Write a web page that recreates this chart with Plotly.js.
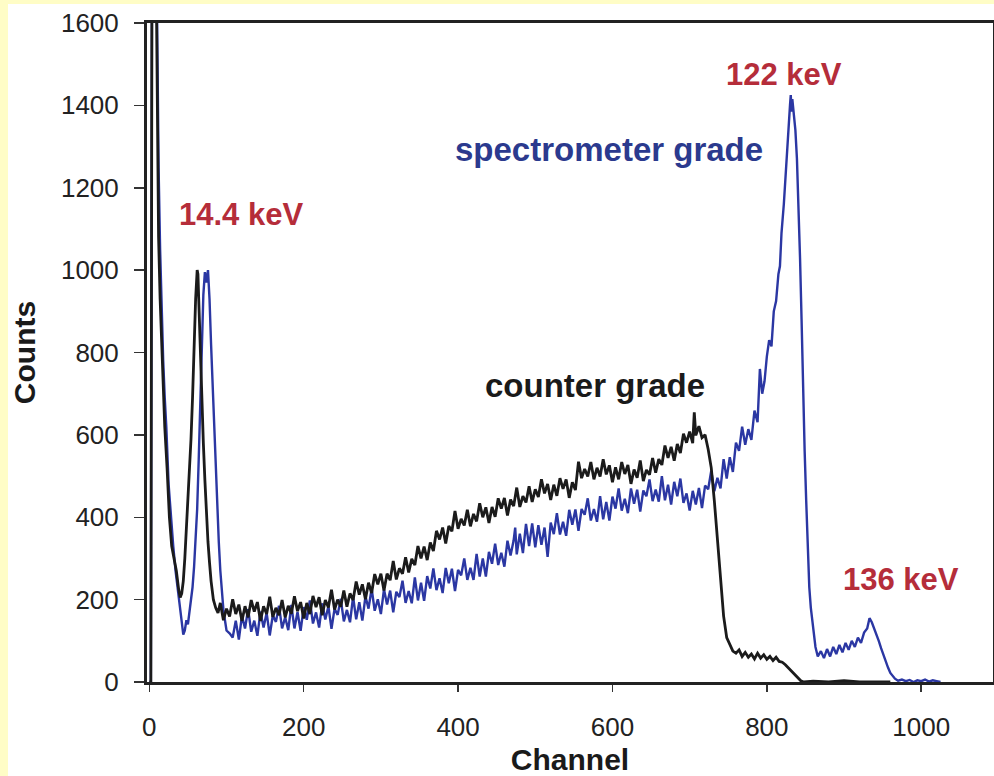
<!DOCTYPE html>
<html>
<head>
<meta charset="utf-8">
<script src="https://cdn.plot.ly/plotly-3.0.1.min.js"></script>
<style>
  html, body { margin:0; padding:0; background:#FFFDC6; width:994px; height:776px; overflow:hidden; }
  #chart { position:absolute; left:8px; top:4px; width:986px; height:772px; }
</style>
</head>
<body>
<div id="chart"></div>
<script>
// ---- data ----
const xTickValues = [0, 200, 400, 600, 800, 1000];
const xTickLabels = ["0", "200", "400", "600", "800", "1000"];
const yTickValues = [0, 200, 400, 600, 800, 1000, 1200, 1400, 1600];
const yTickLabels = ["0", "200", "400", "600", "800", "1000", "1200", "1400", "1600"];

// counter grade detector (black)
const counterChannel = [
  0,2,4,6,8,10,12,14,16,18,20,23,26,29,32,35,38,40,42,44,46,48,50,52,54,56,58,60,62,63,64,66,68,70,72,74,76,78,80,83,86,89,
  92,96,100,104,108,112,116,120,124,128,132,136,140,144,148,152,156,160,164,168,172,176,180,184,188,192,196,200,
  204,208,212,216,220,224,228,232,236,240,244,248,252,256,260,264,268,272,276,280,284,288,292,296,300,
  304,308,312,316,320,324,328,332,336,340,344,348,352,356,360,364,368,372,376,380,384,388,392,396,400,
  404,408,412,416,420,424,428,432,436,440,444,448,452,456,460,464,468,472,476,480,484,488,492,496,500,
  504,508,512,516,520,524,528,532,536,540,544,548,552,556,560,564,568,572,576,580,584,588,592,596,600,
  604,608,612,616,620,624,628,632,636,640,644,648,652,656,660,664,668,672,676,680,684,688,692,696,700,
  704,706,708,712,716,720,724,728,
  732,736,740,744,748,752,756,760,764,768,772,776,780,784,788,792,796,800,804,808,812,816,820,824,828,832,836,840,844,848,860,880,900,920,960
];
const counterCounts = [
  0,0,2400,2400,1900,1450,1080,930,820,720,620,520,400,330,300,270,225,205,215,245,300,370,440,510,590,690,820,930,1000,990,930,800,670,580,490,400,340,290,245,200,180,168,
  192,150,178,159,201,165,188,148,184,157,199,171,194,148,184,165,207,158,180,162,199,157,185,166,208,172,194,154,
  192,165,209,182,206,162,199,181,224,176,200,183,222,183,215,199,244,212,237,201,241,216,262,237,263,
  222,263,247,294,249,276,263,303,266,299,284,330,300,329,296,339,318,367,346,375,336,379,366,415,372,
  396,380,418,378,408,390,434,400,424,386,425,401,446,421,447,404,443,427,472,425,451,436,475,437,468,
  449,492,458,481,442,479,452,495,469,492,447,485,466,535,495,517,499,534,492,520,499,541,504,526,485,
  521,492,534,505,527,481,516,496,538,488,515,503,544,508,541,527,574,544,571,537,578,556,603,581,608,
  580,655,599,621,593,600,565,520,
  440,340,240,160,108,90,75,70,78,62,72,60,68,56,70,58,66,55,62,52,60,50,48,42,34,28,20,10,3,0,2,0,3,0,0
];

// spectrometer grade detector (blue)
const spectrometerChannel = [
  0,2,4,6,8,10,12,14,16,18,20,22,25,28,31,34,37,40,42,44,46,48,50,52,54,56,58,60,62,64,66,68,70,72,74,76,78,80,82,84,86,88,90,92,94,96,98,100,
  104,108,112,116,120,124,128,132,136,140,144,148,152,156,160,164,168,172,176,180,184,188,192,196,200,
  204,208,212,216,220,224,228,232,236,240,244,248,252,256,260,264,268,272,276,280,284,288,292,296,300,
  304,308,312,316,320,324,328,332,336,340,344,348,352,356,360,364,368,372,376,380,384,388,392,396,400,
  404,408,412,416,420,424,428,432,436,440,444,448,452,456,460,464,468,472,474,476,480,484,488,492,496,500,
  504,508,512,516,520,524,528,532,536,540,544,548,552,556,560,564,568,572,576,580,584,588,592,596,600,
  604,608,612,616,620,624,628,632,636,640,644,648,652,656,660,664,668,672,676,680,684,688,692,696,700,
  704,708,712,716,720,724,728,732,736,740,744,748,752,756,760,764,768,772,776,780,784,788,791,794,797,800,
  803,806,809,812,815,817,819,822,824,826,828,830,831,832,833,835,837,839,841,843,845,847,849,851,853,855,857,859,861,863,866,
  870,874,878,882,886,890,894,898,902,906,910,914,918,922,926,930,933,936,939,942,945,948,951,954,957,960,963,966,970,975,980,985,990,995,1000,1005,1010,1015,1020,1025
];
const spectrometerCounts = [
  0,0,2400,2400,2000,1600,1250,1050,900,780,690,620,480,400,330,270,220,170,140,115,125,150,140,170,190,230,280,340,420,540,680,820,940,995,970,1000,930,820,720,620,530,430,340,270,220,175,150,125,
  118,108,149,103,161,130,177,122,149,112,171,132,168,113,162,146,185,130,157,126,187,130,170,124,182,
  151,198,142,169,132,191,152,184,129,178,163,202,147,175,145,207,152,194,149,208,178,227,173,201,165,
  225,188,222,169,219,206,246,192,221,191,254,198,241,197,257,227,276,223,252,216,277,240,275,221,272,
  259,300,248,277,248,311,256,300,256,316,287,336,284,314,280,343,307,344,375,310,360,313,384,330,385,327,
  381,333,375,304,387,359,410,358,389,355,418,382,419,367,420,406,446,392,420,389,451,395,437,392,450,
  421,470,416,445,410,470,433,467,414,465,451,492,439,467,438,500,441,479,431,486,451,494,435,458,416,
  464,431,471,422,477,468,513,463,496,470,541,494,546,510,581,561,620,576,614,588,659,631,760,700,730,790,
  830,815,900,925,990,1010,1090,1160,1227,1290,1348,1400,1425,1385,1415,1370,1340,1270,1170,1030,880,700,560,440,320,230,180,150,110,85,62,
  75,58,80,62,85,68,90,72,95,78,100,85,108,95,120,130,155,145,130,118,100,82,65,50,35,22,14,8,3,6,2,5,0,4,2,6,1,4,2,0
];

// labels drawn on the chart
const labelTexts = ["14.4 keV", "122 keV", "136 keV", "spectrometer grade", "counter grade"];
// ---------------------------------------------

const FONT = "Liberation Sans, Arial, Helvetica, sans-serif";
const RED = "#B52D3A";
const BLUE_TXT = "#2B3A8E";
const BLUE_LINE = "#2B37A3";
const BLACK_LINE = "#1b1b1b";

const traces = [
  { x: spectrometerChannel, y: spectrometerCounts, type: "scatter", mode: "lines",
    name: "spectrometer grade", line: { color: BLUE_LINE, width: 2.4 }, hoverinfo: "skip" },
  { x: counterChannel, y: counterCounts, type: "scatter", mode: "lines",
    name: "counter grade", line: { color: BLACK_LINE, width: 2.8 }, hoverinfo: "skip" }
];

const annFont = (color, size) => ({ family: FONT, size: size, color: color, weight: 700 });

const layout = {
  width: 986, height: 772,
  margin: { l: 139, r: 1, t: 19, b: 94, pad: 0 },
  paper_bgcolor: "#ffffff", plot_bgcolor: "#ffffff",
  showlegend: false,
  font: { family: FONT, color: "#222222" },
  xaxis: {
    range: [-3, 1093], tickmode: "array", tickvals: xTickValues, ticktext: xTickLabels,
    showline: true, linewidth: 3, linecolor: "#222222", mirror: true,
    ticks: "outside", ticklen: 7, tickwidth: 1.5, tickcolor: "#333333",
    showgrid: false, zeroline: false,
    tickfont: { family: FONT, size: 26, color: "#222222" },
    ticklabelstandoff: 13,
    title: { text: "Channel", font: { family: FONT, size: 30, color: "#1a1a1a", weight: 700 }, standoff: 16 }
  },
  yaxis: {
    range: [0, 1600], tickmode: "array", tickvals: yTickValues, ticktext: yTickLabels,
    showline: true, linewidth: 3, linecolor: "#222222", mirror: true,
    ticks: "outside", ticklen: 10, tickwidth: 1.5, tickcolor: "#333333",
    showgrid: false, zeroline: false,
    tickfont: { family: FONT, size: 26, color: "#222222" },
    ticklabelstandoff: 10,
    title: { text: "Counts", font: { family: FONT, size: 30, color: "#1a1a1a", weight: 700 }, standoff: 18 }
  },
  annotations: [
    { x: 119, y: 1136, xref: "x", yref: "y", text: labelTexts[0], showarrow: false, font: annFont(RED, 31) },
    { x: 822, y: 1474, xref: "x", yref: "y", text: labelTexts[1], showarrow: false, font: annFont(RED, 31) },
    { x: 974, y: 250, xref: "x", yref: "y", text: labelTexts[2], showarrow: false, font: annFont(RED, 31) },
    { x: 596, y: 1294, xref: "x", yref: "y", text: labelTexts[3], showarrow: false, font: annFont(BLUE_TXT, 33) },
    { x: 577, y: 721, xref: "x", yref: "y", text: labelTexts[4], showarrow: false, font: annFont("#1a1a1a", 33) }
  ]
};

Plotly.newPlot("chart", traces, layout, { displayModeBar: false, staticPlot: true });
</script>
</body>
</html>
